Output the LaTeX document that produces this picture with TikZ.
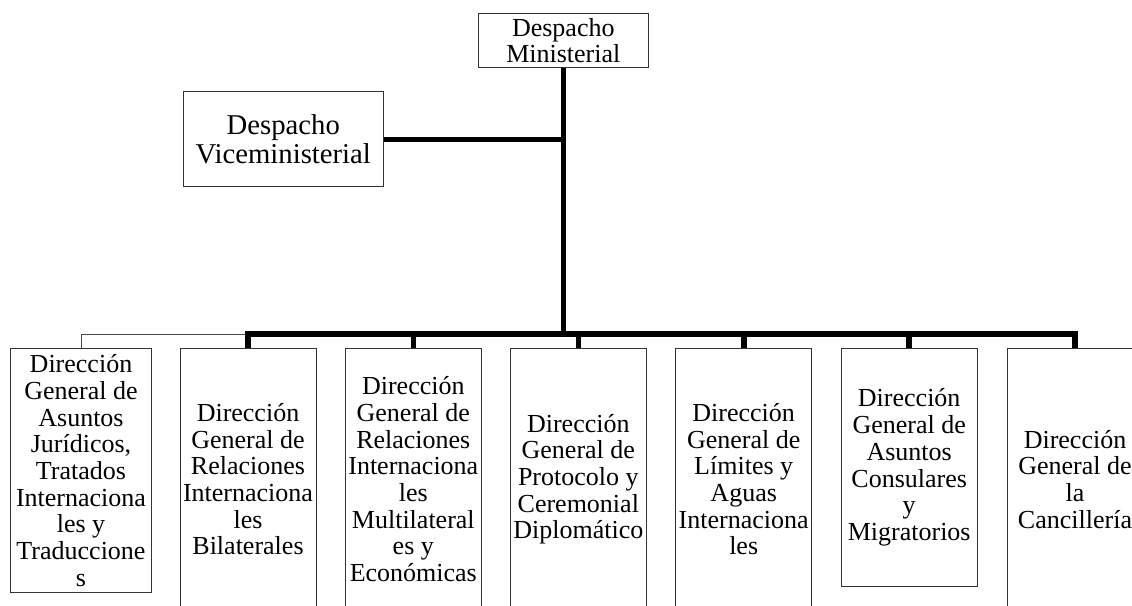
\documentclass[tikz,border=0pt]{standalone}
\usepackage{fontspec}
\setmainfont{Liberation Serif}
\begin{document}
\begin{tikzpicture}[x=1pt,y=1pt,
  box/.style={draw=black!80, line width=0.9pt, fill=white, inner sep=0pt,
    align=center, font=\fontsize{26}{26.7}\selectfont},
  dept/.style={box, minimum width=136pt, minimum height=262pt},
  conn/.style={line width=5.6pt, line join=miter},
  thinconn/.style={line width=0.8pt, draw=black!70}]
\useasboundingbox (0,0) rectangle (1132,-605);
\clip (0,0) rectangle (1132,-605);
\fill[white] (0,0) rectangle (1132,-605);

\coordinate (bus) at (0,-334);

\node[box, minimum width=170pt, minimum height=54.4pt] (min) at (563.3,-40.5) {Despacho\\Ministerial};
\node[box, minimum width=200pt, minimum height=95pt, font=\fontsize{28.7}{29.5}\selectfont] (vice) at (283.3,-139.3) {Despacho\\Viceministerial};

\node[box, minimum width=141.7pt, minimum height=244.4pt] (b1) at (81,-470.5)
  {Dirección\\General de\\Asuntos\\Jurídicos,\\Tratados\\Internaciona\\les y\\Traduccione\\s};
\node[dept] (b2) at (248,-479.3)
  {Dirección\\General de\\Relaciones\\Internaciona\\les\\Bilaterales};
\node[dept] (b3) at (413.3,-479.3)
  {Dirección\\General de\\Relaciones\\Internaciona\\les\\Multilateral\\es y\\Económicas};
\node[dept] (b4) at (578.3,-479.3)
  {Dirección\\General de\\Protocolo y\\Ceremonial\\Diplomático};
\node[dept] (b5) at (743.7,-479.3)
  {Dirección\\General de\\Límites y\\Aguas\\Internaciona\\les};
\node[box, minimum width=136.3pt, minimum height=238.4pt] (b6) at (909.2,-467.5)
  {Dirección\\General de\\Asuntos\\Consulares\\y\\Migratorios};
\node[dept] (b7) at (1075,-479.3)
  {Dirección\\General de\\la\\Cancillería};

% connectors
\draw[conn] (min.south) -- (min.south |- bus);
\draw[conn] (vice.east) -- (vice.east -| min.south);
\draw[thinconn] (b1.north) |- (b2.north |- bus);
\draw[conn] (b2.north) -- (b2.north |- bus) -| (b7.north);
\foreach \b in {b3,b4,b5,b6}
  \draw[conn] (\b.north) -- (\b.north |- bus);
\end{tikzpicture}
\end{document}
